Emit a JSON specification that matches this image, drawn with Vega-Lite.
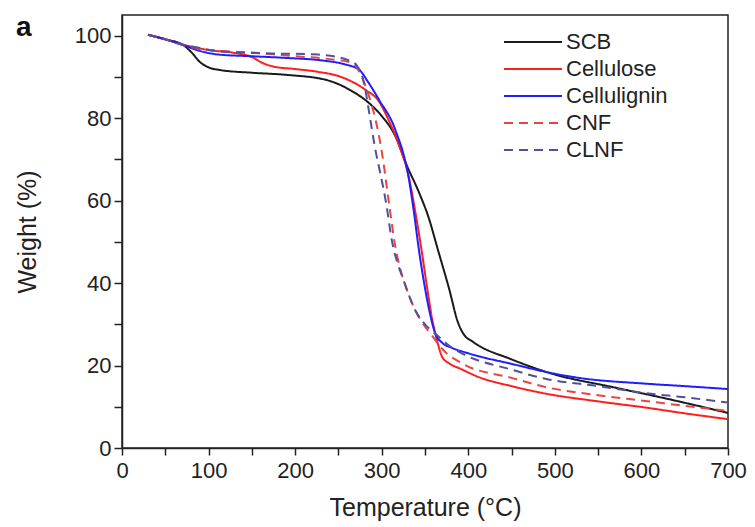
{
  "$schema": "https://vega.github.io/schema/vega-lite/v6.json",
  "width": 606,
  "height": 433,
  "autosize": "none",
  "padding": {"left": 122, "top": 15, "right": 27, "bottom": 79},
  "background": "white",
  "title": {"text": "a", "anchor": "start", "frame": "group", "fontSize": 28, "fontWeight": "bold", "font": "Liberation Sans", "color": "#111", "offset": 0, "dx": -106, "dy": 49, "baseline": "alphabetic"},
  "config": {
    "view": {"stroke": "#222", "strokeWidth": 1.5},
    "axis": {"grid": false, "domainColor": "#222", "tickColor": "#222", "labelColor": "#222", "titleColor": "#222", "labelFont": "Liberation Sans", "titleFont": "Liberation Sans", "titleFontWeight": "normal", "domainWidth": 1.5, "tickWidth": 1.5},
    "legend": {"labelFont": "Liberation Sans"}
  },
  "data": {"values": [
    {"s": "SCB", "t": 30, "w": 100.2}, {"s": "SCB", "t": 50, "w": 99.1}, {"s": "SCB", "t": 70, "w": 97.8}, {"s": "SCB", "t": 80, "w": 96.0}, {"s": "SCB", "t": 90, "w": 93.6}, {"s": "SCB", "t": 100, "w": 92.3}, {"s": "SCB", "t": 112, "w": 91.7}, {"s": "SCB", "t": 150, "w": 91.0}, {"s": "SCB", "t": 189, "w": 90.5}, {"s": "SCB", "t": 235, "w": 89.3}, {"s": "SCB", "t": 266, "w": 86.5}, {"s": "SCB", "t": 285, "w": 83.7}, {"s": "SCB", "t": 300, "w": 80.5}, {"s": "SCB", "t": 316, "w": 75.5}, {"s": "SCB", "t": 328, "w": 69.0}, {"s": "SCB", "t": 343, "w": 62.0}, {"s": "SCB", "t": 354, "w": 56.0}, {"s": "SCB", "t": 365, "w": 48.0}, {"s": "SCB", "t": 378, "w": 38.5}, {"s": "SCB", "t": 388, "w": 30.5}, {"s": "SCB", "t": 395, "w": 27.5}, {"s": "SCB", "t": 405, "w": 25.8}, {"s": "SCB", "t": 450, "w": 21.5}, {"s": "SCB", "t": 497, "w": 18.0}, {"s": "SCB", "t": 566, "w": 14.8}, {"s": "SCB", "t": 624, "w": 12.2}, {"s": "SCB", "t": 700, "w": 8.5},
    {"s": "Cellulose", "t": 30, "w": 100.2}, {"s": "Cellulose", "t": 50, "w": 99.1}, {"s": "Cellulose", "t": 70, "w": 97.8}, {"s": "Cellulose", "t": 81, "w": 97.3}, {"s": "Cellulose", "t": 100, "w": 96.5}, {"s": "Cellulose", "t": 130, "w": 95.8}, {"s": "Cellulose", "t": 150, "w": 94.8}, {"s": "Cellulose", "t": 163, "w": 93.3}, {"s": "Cellulose", "t": 175, "w": 92.5}, {"s": "Cellulose", "t": 200, "w": 91.9}, {"s": "Cellulose", "t": 227, "w": 91.2}, {"s": "Cellulose", "t": 250, "w": 90.2}, {"s": "Cellulose", "t": 266, "w": 88.8}, {"s": "Cellulose", "t": 281, "w": 86.9}, {"s": "Cellulose", "t": 297, "w": 84.0}, {"s": "Cellulose", "t": 308, "w": 79.5}, {"s": "Cellulose", "t": 320, "w": 73.5}, {"s": "Cellulose", "t": 331, "w": 66.0}, {"s": "Cellulose", "t": 339, "w": 57.0}, {"s": "Cellulose", "t": 346, "w": 48.0}, {"s": "Cellulose", "t": 352, "w": 39.5}, {"s": "Cellulose", "t": 358, "w": 31.6}, {"s": "Cellulose", "t": 364, "w": 26.0}, {"s": "Cellulose", "t": 370, "w": 22.0}, {"s": "Cellulose", "t": 378, "w": 20.5}, {"s": "Cellulose", "t": 390, "w": 19.3}, {"s": "Cellulose", "t": 412, "w": 17.2}, {"s": "Cellulose", "t": 450, "w": 15.0}, {"s": "Cellulose", "t": 489, "w": 13.2}, {"s": "Cellulose", "t": 550, "w": 11.3}, {"s": "Cellulose", "t": 605, "w": 9.8}, {"s": "Cellulose", "t": 650, "w": 8.4}, {"s": "Cellulose", "t": 700, "w": 7.0},
    {"s": "Cellulignin", "t": 30, "w": 100.2}, {"s": "Cellulignin", "t": 50, "w": 99.1}, {"s": "Cellulignin", "t": 70, "w": 97.8}, {"s": "Cellulignin", "t": 85, "w": 96.6}, {"s": "Cellulignin", "t": 112, "w": 95.4}, {"s": "Cellulignin", "t": 150, "w": 95.0}, {"s": "Cellulignin", "t": 189, "w": 94.6}, {"s": "Cellulignin", "t": 230, "w": 94.0}, {"s": "Cellulignin", "t": 258, "w": 93.0}, {"s": "Cellulignin", "t": 274, "w": 91.7}, {"s": "Cellulignin", "t": 285, "w": 88.5}, {"s": "Cellulignin", "t": 297, "w": 84.4}, {"s": "Cellulignin", "t": 316, "w": 77.0}, {"s": "Cellulignin", "t": 331, "w": 65.7}, {"s": "Cellulignin", "t": 337, "w": 57.5}, {"s": "Cellulignin", "t": 343, "w": 48.0}, {"s": "Cellulignin", "t": 349, "w": 40.0}, {"s": "Cellulignin", "t": 355, "w": 33.3}, {"s": "Cellulignin", "t": 362, "w": 27.7}, {"s": "Cellulignin", "t": 370, "w": 25.5}, {"s": "Cellulignin", "t": 381, "w": 24.3}, {"s": "Cellulignin", "t": 401, "w": 22.9}, {"s": "Cellulignin", "t": 450, "w": 20.4}, {"s": "Cellulignin", "t": 500, "w": 18.0}, {"s": "Cellulignin", "t": 528, "w": 17.0}, {"s": "Cellulignin", "t": 605, "w": 15.6}, {"s": "Cellulignin", "t": 650, "w": 15.0}, {"s": "Cellulignin", "t": 700, "w": 14.3},
    {"s": "CNF", "t": 30, "w": 100.2}, {"s": "CNF", "t": 50, "w": 99.1}, {"s": "CNF", "t": 70, "w": 97.8}, {"s": "CNF", "t": 85, "w": 97.0}, {"s": "CNF", "t": 112, "w": 96.3}, {"s": "CNF", "t": 150, "w": 95.9}, {"s": "CNF", "t": 200, "w": 95.0}, {"s": "CNF", "t": 240, "w": 94.3}, {"s": "CNF", "t": 266, "w": 93.4}, {"s": "CNF", "t": 277, "w": 90.0}, {"s": "CNF", "t": 285, "w": 85.5}, {"s": "CNF", "t": 293, "w": 79.5}, {"s": "CNF", "t": 300, "w": 72.0}, {"s": "CNF", "t": 308, "w": 60.0}, {"s": "CNF", "t": 316, "w": 48.5}, {"s": "CNF", "t": 322, "w": 43.0}, {"s": "CNF", "t": 328, "w": 39.0}, {"s": "CNF", "t": 339, "w": 33.3}, {"s": "CNF", "t": 348, "w": 30.0}, {"s": "CNF", "t": 358, "w": 27.3}, {"s": "CNF", "t": 370, "w": 24.0}, {"s": "CNF", "t": 393, "w": 20.5}, {"s": "CNF", "t": 450, "w": 17.0}, {"s": "CNF", "t": 489, "w": 14.8}, {"s": "CNF", "t": 550, "w": 12.8}, {"s": "CNF", "t": 605, "w": 11.4}, {"s": "CNF", "t": 650, "w": 10.2}, {"s": "CNF", "t": 700, "w": 9.0},
    {"s": "CLNF", "t": 30, "w": 100.2}, {"s": "CLNF", "t": 50, "w": 99.1}, {"s": "CLNF", "t": 70, "w": 97.8}, {"s": "CLNF", "t": 85, "w": 97.2}, {"s": "CLNF", "t": 112, "w": 96.2}, {"s": "CLNF", "t": 150, "w": 95.8}, {"s": "CLNF", "t": 227, "w": 95.4}, {"s": "CLNF", "t": 266, "w": 93.7}, {"s": "CLNF", "t": 272, "w": 92.5}, {"s": "CLNF", "t": 277, "w": 90.5}, {"s": "CLNF", "t": 281, "w": 87.0}, {"s": "CLNF", "t": 285, "w": 82.0}, {"s": "CLNF", "t": 293, "w": 72.0}, {"s": "CLNF", "t": 298, "w": 67.0}, {"s": "CLNF", "t": 305, "w": 59.5}, {"s": "CLNF", "t": 312, "w": 50.0}, {"s": "CLNF", "t": 318, "w": 45.0}, {"s": "CLNF", "t": 324, "w": 41.4}, {"s": "CLNF", "t": 339, "w": 33.3}, {"s": "CLNF", "t": 350, "w": 30.0}, {"s": "CLNF", "t": 363, "w": 27.5}, {"s": "CLNF", "t": 380, "w": 24.5}, {"s": "CLNF", "t": 393, "w": 22.9}, {"s": "CLNF", "t": 450, "w": 19.0}, {"s": "CLNF", "t": 489, "w": 16.8}, {"s": "CLNF", "t": 550, "w": 15.0}, {"s": "CLNF", "t": 605, "w": 13.3}, {"s": "CLNF", "t": 650, "w": 12.3}, {"s": "CLNF", "t": 700, "w": 11.0}
  ]},
  "mark": {"type": "line", "strokeWidth": 2, "interpolate": "monotone", "clip": true},
  "encoding": {
    "x": {"field": "t", "type": "quantitative", "scale": {"domain": [0, 700], "nice": false, "zero": false},
      "axis": {"title": "Temperature (°C)", "values": [0, 50, 100, 150, 200, 250, 300, 350, 400, 450, 500, 550, 600, 650, 700], "labelExpr": "datum.value % 100 === 0 ? datum.label : ''", "tickSize": 7, "labelPadding": 5, "labelFontSize": 22, "titleFontSize": 25, "titlePadding": 14, "labelFlush": false, "labelOverlap": false,
        "encode": {"ticks": {"update": {"y2": {"signal": "datum.value % 100 === 0 ? 7 : 4"}}}}}},
    "y": {"field": "w", "type": "quantitative", "scale": {"domain": [0, 105], "nice": false},
      "axis": {"title": "Weight (%)", "values": [0, 10, 20, 30, 40, 50, 60, 70, 80, 90, 100], "labelExpr": "datum.value % 20 === 0 ? datum.label : ''", "tickSize": 8, "labelPadding": 3, "labelFontSize": 22, "titleFontSize": 25, "titlePadding": 34, "labelFlush": false, "labelOverlap": false,
        "encode": {"ticks": {"update": {"x2": {"signal": "datum.value % 20 === 0 ? -8 : -4"}}}}}},
    "color": {"field": "s", "type": "nominal", "sort": ["SCB", "Cellulose", "Cellulignin", "CNF", "CLNF"],
      "scale": {"domain": ["SCB", "Cellulose", "Cellulignin", "CNF", "CLNF"], "range": ["#1a1a1a", "#ff1e1e", "#1e1eff", "#e84444", "#50509e"]},
      "legend": {"title": null, "orient": "none", "legendX": 400, "legendY": 16, "symbolType": "M-4,0L4,0", "symbolSize": 210, "symbolStrokeWidth": 2, "labelFontSize": 22, "labelColor": "#222", "labelOffset": 22, "rowPadding": 5}},
    "strokeDash": {"field": "s", "type": "nominal", "sort": ["SCB", "Cellulose", "Cellulignin", "CNF", "CLNF"],
      "scale": {"domain": ["SCB", "Cellulose", "Cellulignin", "CNF", "CLNF"], "range": [[1, 0], [1, 0], [1, 0], [9, 6], [9, 6]]},
      "legend": {"title": null, "orient": "none", "legendX": 400, "legendY": 16, "symbolType": "M-4,0L4,0", "symbolSize": 210, "symbolStrokeWidth": 2, "labelFontSize": 22, "labelColor": "#222", "labelOffset": 22, "rowPadding": 5}}
  }
}
